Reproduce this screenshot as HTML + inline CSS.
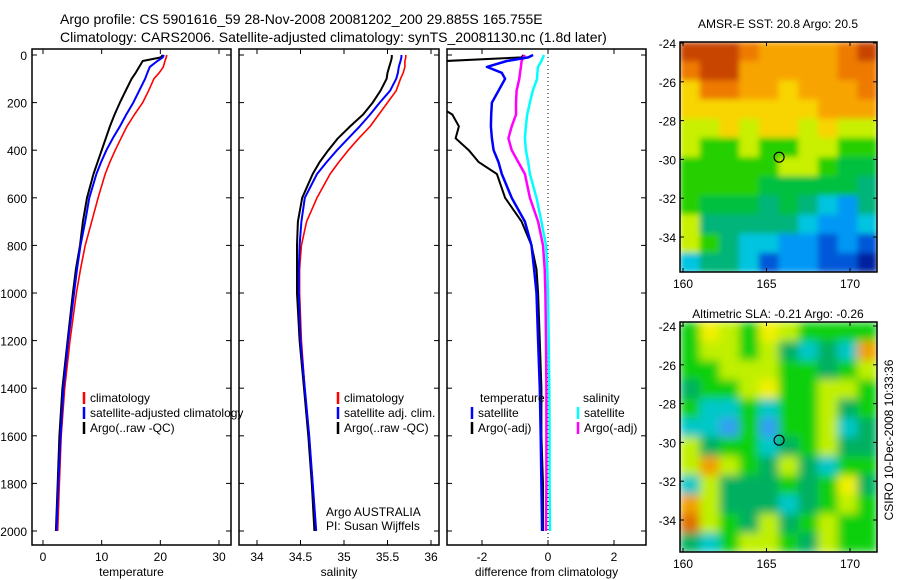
<!DOCTYPE html>
<html><head><meta charset="utf-8"><style>
body{margin:0;background:#fff;}
svg{display:block;font-family:"Liberation Sans",sans-serif;}
</style></head><body>
<svg id="s" width="900" height="580" xmlns="http://www.w3.org/2000/svg">
<defs>
<filter id="blurS" x="0" y="0" width="1" height="1"><feGaussianBlur stdDeviation="3" edgeMode="duplicate"/></filter>
<filter id="blurL" x="0" y="0" width="1" height="1"><feGaussianBlur stdDeviation="4.5" edgeMode="duplicate"/></filter>
</defs>
<rect width="900" height="580" fill="#fff"/>
<text x="60" y="24" font-size="14">Argo profile: CS 5901616_59 28-Nov-2008 20081202_200 29.885S 165.755E</text>
<text x="60" y="42" font-size="14">Climatology: CARS2006. Satellite-adjusted climatology: synTS_20081130.nc (1.8d later)</text>
<text x="778" y="28" font-size="12" text-anchor="middle">AMSR-E SST: 20.8  Argo: 20.5</text>
<text x="778" y="318" font-size="12" text-anchor="middle">Altimetric SLA: -0.21  Argo: -0.26</text>
<text transform="translate(893,440) rotate(-90)" font-size="12" text-anchor="middle">CSIRO 10-Dec-2008 10:33:36</text>
<g id="g"></g>
</svg>
<script>
// depth levels (m)
const depths=[0,10,25,50,75,100,150,200,250,300,350,400,450,500,600,700,800,900,1000,1200,1400,1600,1800,2000];
// temperature panel
const tempClim=[21.1,21.0,20.8,20.5,19.8,18.9,18.0,17.0,15.6,14.3,13.3,12.3,11.4,10.6,9.4,8.3,7.2,6.4,5.7,4.6,3.7,3.1,2.8,2.5];
const tempSat=[20.6,20.4,19.5,18.2,17.8,17.4,16.4,15.4,14.2,13.1,11.9,10.8,9.9,9.1,7.9,7.2,6.4,5.8,5.3,4.3,3.5,3.0,2.6,2.3];
const tempArgo=[20.4,20.1,17.0,16.4,15.8,15.1,14.1,13.1,12.2,11.4,10.7,10.0,9.3,8.6,7.5,6.8,6.3,5.6,5.1,4.2,3.3,2.8,2.5,2.2];
// salinity panel
const salClim=[35.71,35.71,35.70,35.70,35.68,35.65,35.60,35.50,35.40,35.30,35.17,35.05,34.94,34.84,34.69,34.57,34.51,34.49,34.49,34.51,34.55,34.60,34.64,34.68];
const salSat=[35.66,35.66,35.65,35.63,35.62,35.60,35.53,35.41,35.30,35.18,35.05,34.92,34.80,34.69,34.55,34.51,34.49,34.48,34.48,34.50,34.55,34.60,34.64,34.68];
const salArgo=[35.55,35.55,35.54,35.52,35.50,35.49,35.42,35.33,35.22,35.07,34.93,34.82,34.72,34.64,34.52,34.47,34.46,34.46,34.46,34.49,34.54,34.59,34.63,34.66];
// difference panel
const dTempSat=[-0.45,-0.6,-1.25,-1.85,-1.4,-1.3,-1.5,-1.7,-1.72,-1.73,-1.7,-1.65,-1.5,-1.4,-1.1,-0.7,-0.5,-0.42,-0.35,-0.3,-0.25,-0.22,-0.2,-0.18];
const dTempArgo=[-0.75,-0.8,-3.1,-3.5,-3.5,-3.5,-3.5,-3.5,-2.9,-2.7,-2.8,-2.4,-2.1,-1.55,-1.3,-0.8,-0.5,-0.35,-0.3,-0.25,-0.2,-0.2,-0.15,-0.15];
const dSalArgo=[-0.7,-0.75,-0.8,-0.82,-0.85,-0.87,-0.95,-0.97,-0.97,-1.1,-1.2,-1.1,-0.9,-0.7,-0.55,-0.3,-0.15,-0.1,-0.08,-0.06,-0.05,-0.05,-0.05,-0.06];
const dSalSat=[-0.12,-0.15,-0.2,-0.3,-0.32,-0.33,-0.46,-0.55,-0.63,-0.67,-0.7,-0.67,-0.6,-0.55,-0.35,-0.2,-0.06,-0.02,0,0.02,0.04,0.05,0.05,0.06];
const depthTicks=[0,200,400,600,800,1000,1200,1400,1600,1800,2000];
const tempTicks=[0,10,20,30];
const salTicks=[34,34.5,35,35.5,36];
const diffTicks=[-2,0,2];
const latTicks=[-24,-26,-28,-30,-32,-34];
const lonTicks=[160,165,170];
// map color grids (row strings)
const sstGrid=["RRROooooOR","ORRoooooOO","YOOooYoooO","YYYYYYYooo","yyYyYYyYyy","yGGyGGyyGG","GGGGGyyGgg","GGGGgggggT","GgggTgTCBT","yTTTTTCBBC","yGTCCBBbBb","CTTCbBBbbN"];
const slaGrid=["gYygYygggg","gyygytCtCO","ggyyyggtgy","tggyYggyyg","gCCgCggytg","CCBgBggyCt","ytggCtgytt","yOygtytCgg","CytttgtgYt","OytttCtgyg","Rygtytgygg","tCgyygtygg"];

const NS="http://www.w3.org/2000/svg";
const G=document.getElementById('g');
function el(t,a,p){const e=document.createElementNS(NS,t);for(const k in a)e.setAttribute(k,a[k]);(p||G).appendChild(e);return e;}
const yTop=49,yBot=545;
function yD(d){return 55+d*(531-55)/2000;}
function mkX(v0,p0,v1,p1){return v=>p0+(v-v0)*(p1-p0)/(v1-v0);}

function panel(name,x0,x1,sx,ticks,xlabel,showY){
  const r=el('rect',{x:x0,y:yTop,width:x1-x0,height:yBot-yTop,fill:'none',stroke:'#000','stroke-width':1.5});
  
  
  depthTicks.forEach(d=>{
    const y=yD(d);
    el('line',{x1:x0,x2:x0+5,y1:y,y2:y,stroke:'#000'});
    el('line',{x1:x1,x2:x1-5,y1:y,y2:y,stroke:'#000'});
    if(showY){const t=el('text',{x:x0-5,y:y+5,'font-size':12,'text-anchor':'end'});t.textContent=d;
      
      }
  });
  ticks.forEach(v=>{
    const x=sx(v);
    el('line',{x1:x,x2:x,y1:yBot,y2:yBot-5,stroke:'#000'});
    el('line',{x1:x,x2:x,y1:yTop,y2:yTop+5,stroke:'#000'});
    const t=el('text',{x:x,y:yBot+16,'font-size':12,'text-anchor':'middle'});t.textContent=v;
    
    
  });
  const l=el('text',{x:(x0+x1)/2,y:yBot+31,'font-size':12,'text-anchor':'middle'});l.textContent=xlabel;
  
  
}
function line(name,vals,sx,color,w,clip){
  const pts=vals.map((v,i)=>sx(v).toFixed(1)+','+yD(depths[i]).toFixed(1)).join(' ');
  const p=el('polyline',{points:pts,fill:'none',stroke:color,'stroke-width':w,'stroke-linejoin':'round','clip-path':'url(#'+clip+')'});
  
  
}
function clip(id,x0,x1){const d=el('clipPath',{id:id});el('rect',{x:x0,y:yTop,width:x1-x0,height:yBot-yTop},d);}
function legend(x,y,items,name){
  items.forEach((it,i)=>{
    el('line',{x1:x,x2:x,y1:y+i*15-10,y2:y+i*15+2,stroke:it[1],'stroke-width':2.5});
    const t=el('text',{x:x+6,y:y+i*15,'font-size':12});t.textContent=it[0];
    
    
  });
}

// Panel 1 temperature
const sxT=mkX(0,43,30,219);
clip('c1',32,231);
line('temp-climatology-line',tempClim,sxT,'#f00',1.6,'c1');
line('temp-argo-line',tempArgo,sxT,'#000',2,'c1');
line('temp-satellite-line',tempSat,sxT,'#00f',2,'c1');
panel('temperature-panel',32,231,sxT,tempTicks,'temperature',true);
legend(84,402,[['climatology','#f00'],['satellite-adjusted climatology','#00f'],['Argo(..raw -QC)','#000']],'temp-legend');

// Panel 2 salinity
const sxS=mkX(34,257,36,431);
clip('c2',239,439);
line('sal-climatology-line',salClim,sxS,'#f00',1.6,'c2');
line('sal-argo-line',salArgo,sxS,'#000',2,'c2');
line('sal-satellite-line',salSat,sxS,'#00f',2,'c2');
panel('salinity-panel',239,439,sxS,salTicks,'salinity',false);
legend(338,402,[['climatology','#f00'],['satellite adj. clim.','#00f'],['Argo(..raw -QC)','#000']],'sal-legend');
let t=el('text',{x:326,y:516,'font-size':12});t.textContent='Argo AUSTRALIA';


t=el('text',{x:326,y:530,'font-size':12});t.textContent='PI: Susan Wijffels';



// Panel 3 difference
const sxD=mkX(-2,482,2,614);
clip('c3',447,646);
el('line',{x1:sxD(0),x2:sxD(0),y1:yTop,y2:yBot,stroke:'#000','stroke-dasharray':'1,3'});
line('diff-temp-argo-line',dTempArgo,sxD,'#000',2,'c3');
line('diff-sal-sat-line',dSalSat,sxD,'#0ff',2.5,'c3');
line('diff-sal-argo-line',dSalArgo,sxD,'#f0f',2.5,'c3');
line('diff-temp-sat-line',dTempSat,sxD,'#00f',2.5,'c3');
panel('difference-panel',447,646,sxD,diffTicks,'difference from climatology',false);
t=el('text',{x:480,y:402,'font-size':12});t.textContent='temperature';


t=el('text',{x:583,y:402,'font-size':12});t.textContent='salinity';


legend(472,417,[['satellite','#00f'],['Argo(-adj)','#000']],'diff-temp-legend');
legend(578,417,[['satellite','#0ff'],['Argo(-adj)','#f0f']],'diff-sal-legend');

// Maps
const sstPal={R:'#c84400',O:'#ee7a00',o:'#f8a400',Y:'#f8d400',y:'#c8f000',G:'#28d000',g:'#00c040',T:'#00b47a',C:'#00c4e0',B:'#0098f4',b:'#0058d8',N:'#0020a0'};
const slaPal={g:'#10d010',t:'#00b060',y:'#c0f000',Y:'#f0f000',C:'#00c8c8',B:'#30a0f0',O:'#f0a000',R:'#e07000'};
function map(name,x0,y0,grid,pal,latTop,filt){
  const w=197,h=230,cw=w/grid[0].length,ch=h/grid.length;
  const cp=el('clipPath',{id:'cp-'+name});el('rect',{x:x0,y:y0,width:w,height:h},cp);
  const outer=el('g',{'clip-path':'url(#cp-'+name+')'});
  const g=el('g',{filter:'url(#'+filt+')'},outer);
  
  
  grid.forEach((row,r)=>{[...row].forEach((c,k)=>{
    el('rect',{x:x0+k*cw,y:y0+r*ch,width:cw+0.5,height:ch+0.5,fill:pal[c]},g);
  });});
  el('rect',{x:x0,y:y0,width:w,height:h,fill:'none',stroke:'#000','stroke-width':1.5});
  const sx=mkX(160,x0+3,170,x0+170), sy=mkX(-24,latTop,-34,latTop+194);
  latTicks.forEach(v=>{const y=sy(v);
    el('line',{x1:x0,x2:x0+4,y1:y,y2:y,stroke:'#000'});el('line',{x1:x0+w,x2:x0+w-4,y1:y,y2:y,stroke:'#000'});
    const tt=el('text',{x:x0-4,y:y+5,'font-size':12,'text-anchor':'end'});tt.textContent=v;
    
    });
  lonTicks.forEach(v=>{const x=sx(v);
    el('line',{x1:x,x2:x,y1:y0+h,y2:y0+h-4,stroke:'#000'});el('line',{x1:x,x2:x,y1:y0,y2:y0+4,stroke:'#000'});
    const tt=el('text',{x:x,y:y0+h+16,'font-size':12,'text-anchor':'middle'});tt.textContent=v;
    
    });
  const c=el('circle',{cx:sx(165.755),cy:sy(-29.885),r:5,fill:'none',stroke:'#000','stroke-width':1.2});
  
  
}
map('sst-map',680,42,sstGrid,sstPal,43,'blurS');
map('sla-map',680,322,slaGrid,slaPal,326,'blurL');
</script>
</body></html>
